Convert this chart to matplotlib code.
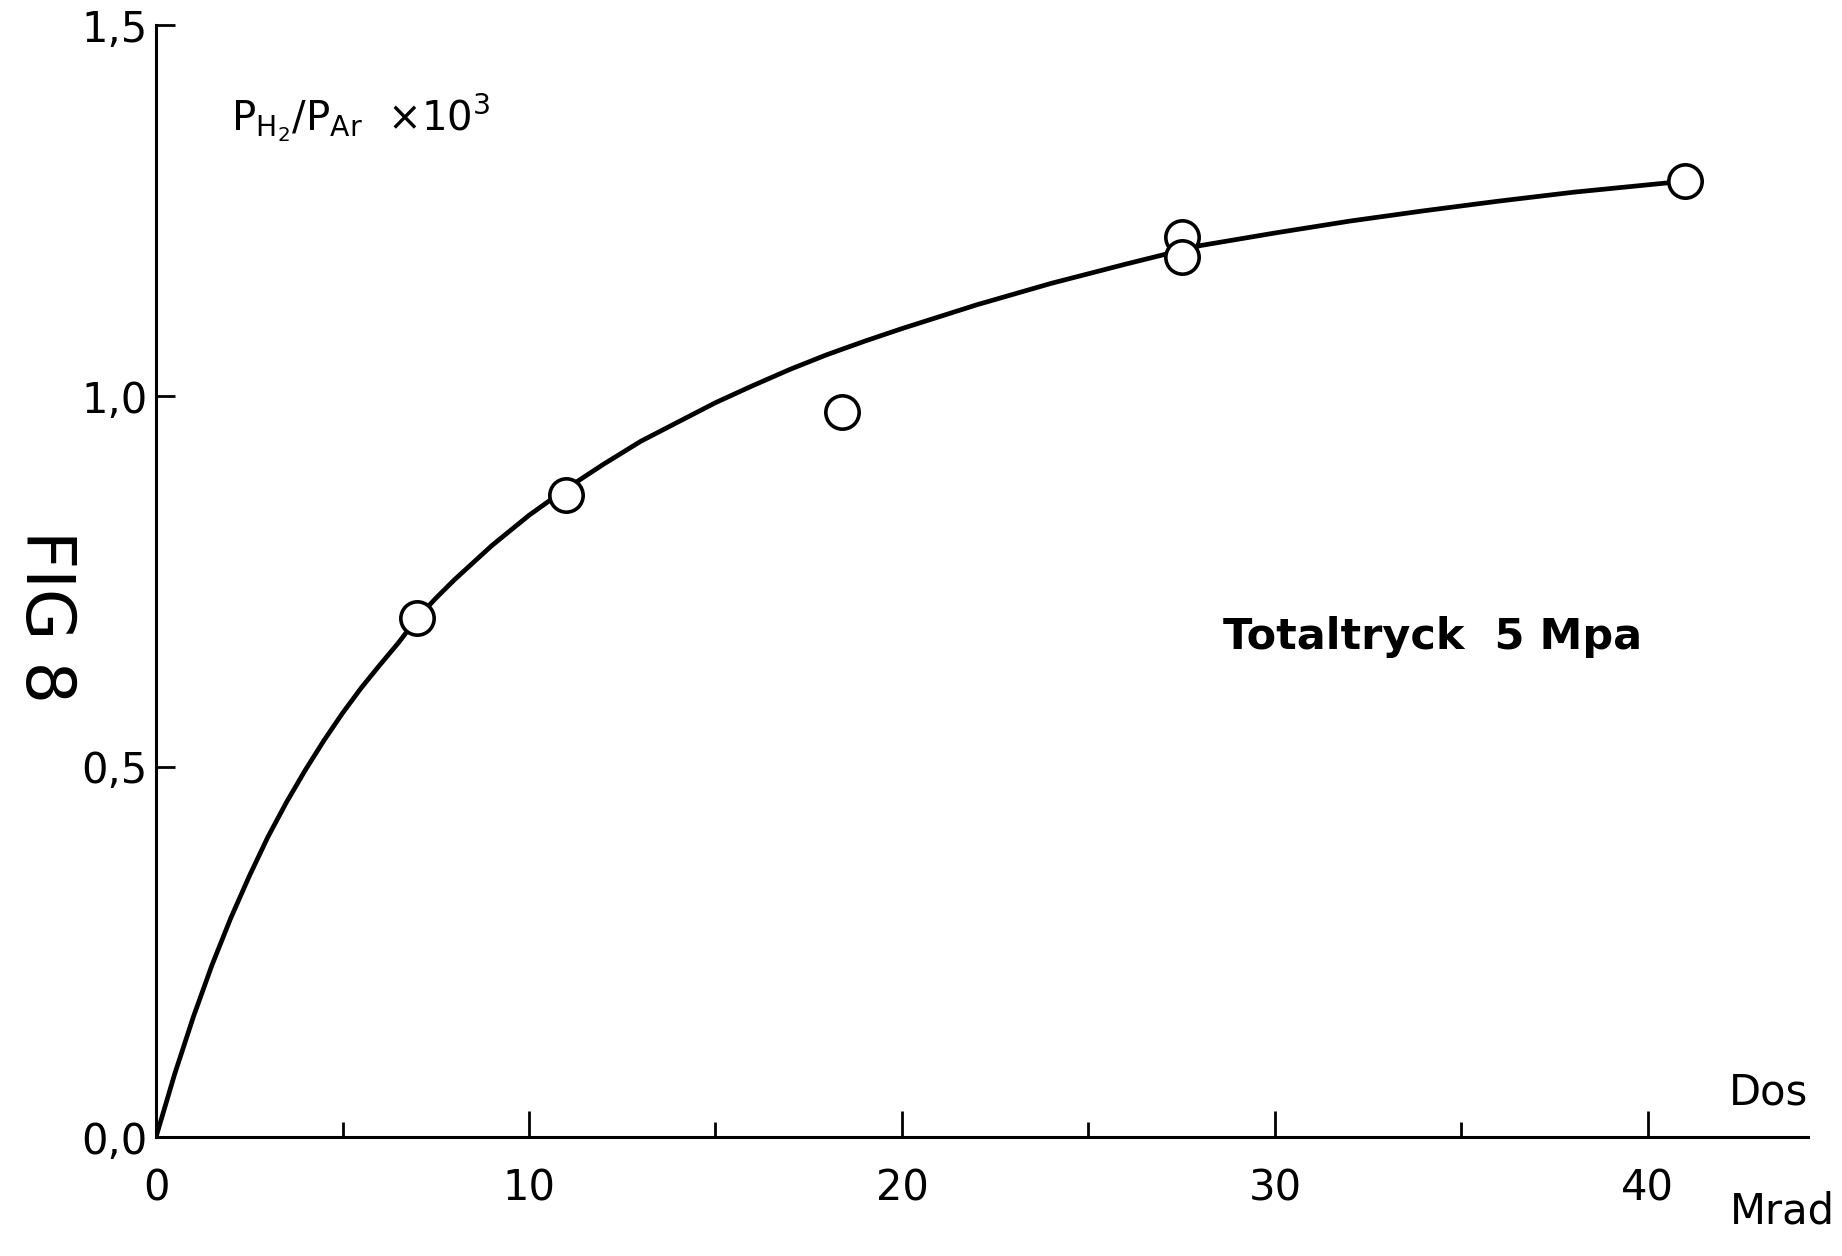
import matplotlib
matplotlib.use('Agg')
from matplotlib import pyplot as plt

plt.rcParams['font.family'] = ['DejaVu Sans']
plt.rcParams['mathtext.fontset'] = 'dejavusans'

# measured points (dose in Mrad, ratio x 10^3)
dos = [7.0, 11.0, 18.4, 27.5, 27.5, 41.0]
ratio = [0.70, 0.867, 0.979, 1.215, 1.188, 1.29]

# hand drawn curve
curve_x = [0, 0.5, 1, 1.5, 2, 2.5, 3, 3.5, 4, 4.5, 5, 5.5, 6, 6.5, 7, 7.5, 8,
           9, 10, 11, 12, 13, 14, 15, 16, 17, 18, 19, 20, 22, 24, 26, 28, 30,
           32, 34, 36, 38, 40, 41.0]
curve_y = [0, 0.085, 0.162, 0.232, 0.295, 0.352, 0.405, 0.452, 0.495, 0.535,
           0.572, 0.606, 0.637, 0.667, 0.700, 0.727, 0.752, 0.798, 0.839, 0.875,
           0.908, 0.939, 0.965, 0.991, 1.014, 1.036, 1.056, 1.074, 1.091, 1.123,
           1.152, 1.178, 1.203, 1.220, 1.236, 1.250, 1.263, 1.275, 1.285, 1.29]

x_major = [0, 10, 20, 30, 40]
x_minor = [5, 15, 25, 35]
y_major = [0, 0.5, 1.0, 1.5]
y_labels = ['0,0', '0,5', '1,0', '1,5']

fig = plt.figure(figsize=(18.42, 12.56), dpi=100)
ax = fig.add_axes([0.0847, 0.0947, 0.897, 0.885])

ax.plot(curve_x, curve_y, color='black', lw=3.4, solid_joinstyle='round',
        solid_capstyle='round', zorder=2)
ax.plot(dos, ratio, 'o', ms=24, mfc='white', mec='black', mew=2.6,
        clip_on=False, zorder=3)

ax.set_xlim(0, 44.3)
ax.set_ylim(0, 1.5)
for s in ['top', 'right']:
    ax.spines[s].set_visible(False)
for s in ['left', 'bottom']:
    ax.spines[s].set_linewidth(2.2)

ax.set_xticks(x_major)
ax.set_xticklabels([str(v) for v in x_major])
ax.set_xticks(x_minor, minor=True)
ax.set_yticks(y_major)
ax.set_yticklabels(y_labels)
ax.tick_params(axis='x', which='major', direction='in', length=19, width=2,
               labelsize=30, pad=22)
ax.tick_params(axis='x', which='minor', direction='in', length=11, width=2)
ax.tick_params(axis='y', direction='in', length=14, width=2, labelsize=30, pad=6)

ax.text(2.0, 1.375, r'$\mathrm{P}_{\mathrm{H}_2}/\mathrm{P}_{\mathrm{Ar}}$  $\times10^3$',
        fontsize=29, ha='left', va='center')
ax.text(28.6, 0.675, 'Totaltryck  5 Mpa', fontsize=31, fontweight='bold',
        ha='left', va='center')
ax.text(44.3, 0.06, 'Dos', fontsize=30, ha='right', va='center', clip_on=False)
ax.text(45.0, -0.1, 'Mrad', fontsize=30, ha='right', va='center', clip_on=False)

fig.text(0.0244, 0.509, 'FIG 8', fontsize=48, rotation=270, ha='center', va='center')

plt.savefig('out.png', dpi=100)
